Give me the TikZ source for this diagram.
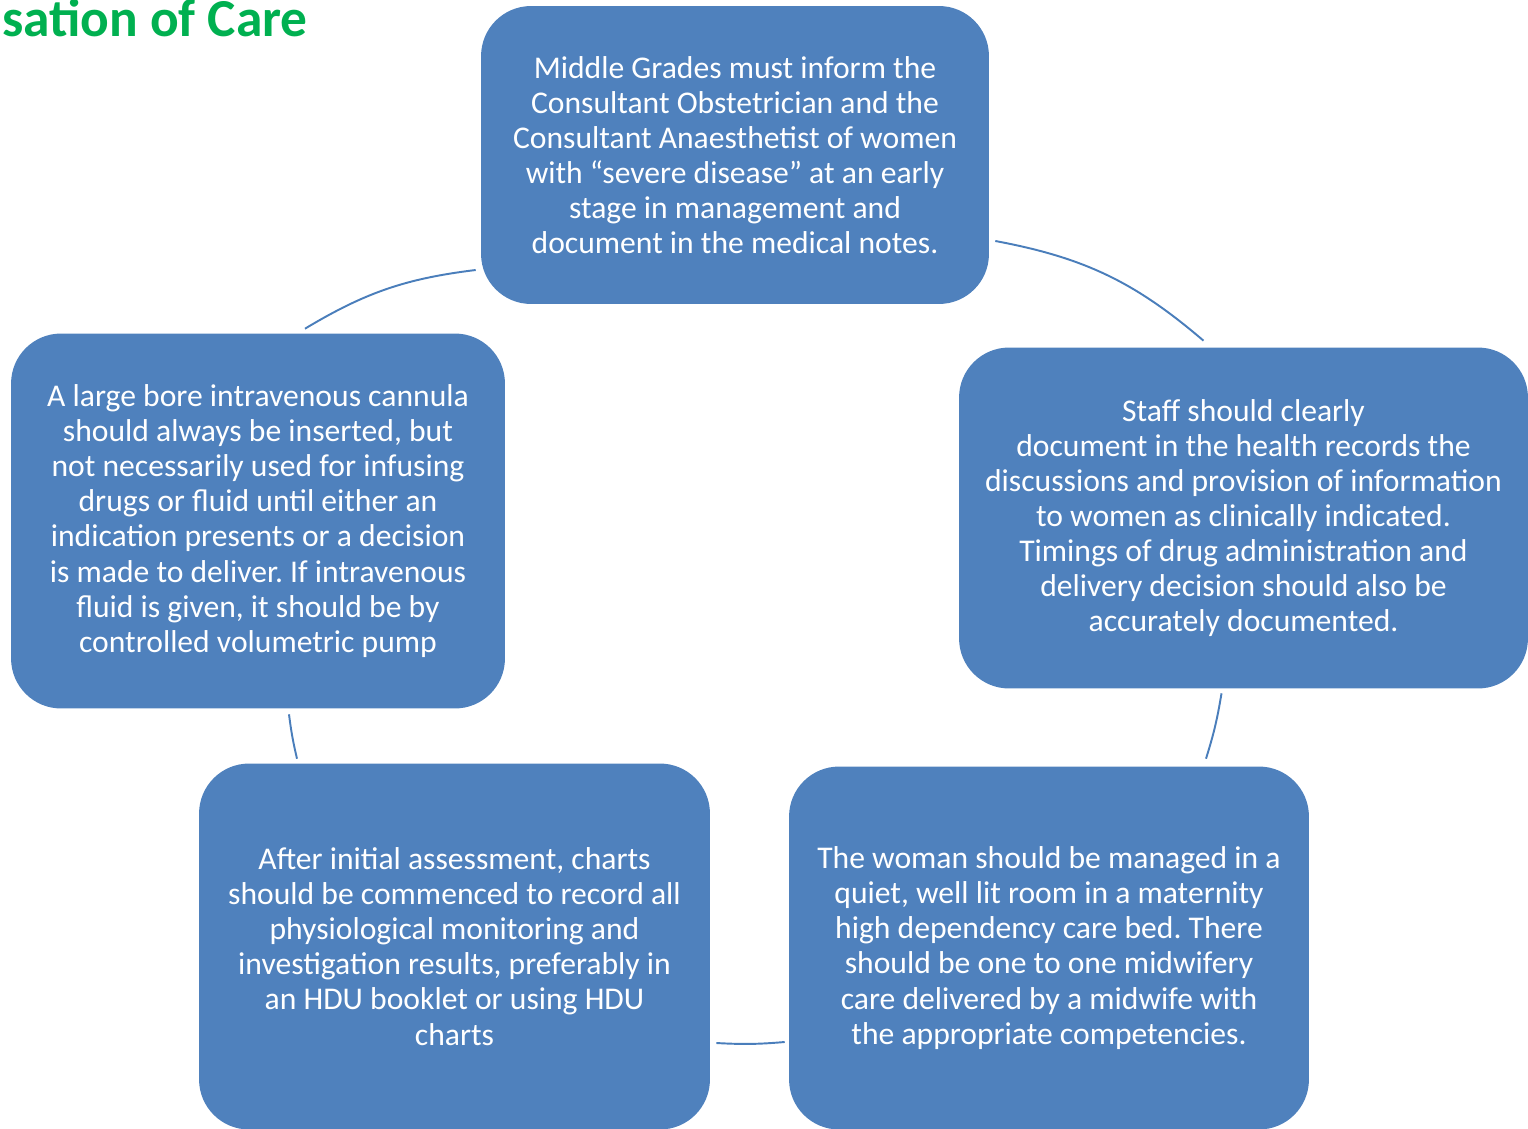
\documentclass[tikz,border=0pt]{standalone}
\usepackage{fontspec}
\setmainfont{Carlito}
\usetikzlibrary{calc}
\definecolor{boxblue}{HTML}{4F81BD}
\definecolor{linkblue}{HTML}{4A7EBB}
\definecolor{titlegreen}{HTML}{00B050}
\frenchspacing
\begin{document}
\begin{tikzpicture}[x=0.02cm,y=-0.02cm,
  card/.style={fill=boxblue, rounded corners=1cm, text=white, align=center,
    inner sep=0pt, font=\fontsize{18}{19.96}\selectfont},
  link/.style={draw=linkblue, line width=1.1pt},
  heading/.style={text=titlegreen, inner sep=0pt, anchor=base west,
    font=\fontsize{30.4}{36}\selectfont\bfseries}]
\useasboundingbox (0,0) rectangle (1528,1129);
\clip (0,0) rectangle (1528,1129);

\node[heading] (title) at (2,36) {sation of Care};

\node[card, minimum width=10.16cm, minimum height=5.96cm] (top) at (735,155)
  {Middle Grades must inform the\\Consultant Obstetrician and the\\Consultant Anaesthetist of women\\with “severe disease” at an early\\stage in management and\\document in the medical notes.};

\node[card, minimum width=11.38cm, minimum height=6.82cm] (right) at (1243.5,518)
  {Staff should clearly\\document in the health records the\\discussions and provision of information\\to women as clinically indicated.\\Timings of drug administration and\\delivery decision should also be\\accurately documented.};

\node[card, minimum width=10.4cm, minimum height=7.26cm] (brt) at (1049,948)
  {The woman should be managed in a\\quiet, well lit room in a maternity\\high dependency care bed. There\\should be one to one midwifery\\care delivered by a midwife with\\the appropriate competencies.};

\node[card, minimum width=10.22cm, minimum height=7.32cm] (blt) at (454.5,946.5)
  {After initial assessment, charts\\should be commenced to record all\\physiological monitoring and\\investigation results, preferably in\\an HDU booklet or using HDU\\charts};

\node[card, minimum width=9.88cm, minimum height=7.5cm] (left) at (258,521)
  {A large bore intravenous cannula\\should always be inserted, but\\not necessarily used for infusing\\drugs or fluid until either an\\indication presents or a decision\\is made to deliver. If intravenous\\fluid is given, it should be by\\controlled volumetric pump};

% cycle connectors between neighbouring cards
\draw[link] ($(top.east)+(6,86)$) to[bend left=15] ($(right.north)+(-40,-6.5)$);
\draw[link] ($(right.south)+(-22,4.5)$) to[bend left=4] ($(brt.north)+(157,-7.5)$);
\draw[link] ($(brt.west)+(-4,94)$) to[bend left=4] ($(blt.east)+(6,96.5)$);
\draw[link] ($(blt.north)+(-157.5,-4.5)$) to[bend left=3] ($(left.south)+(31,5.5)$);
\draw[link] ($(left.north)+(47,-4.5)$) to[bend left=12] ($(top.west)+(-5,115)$);
\end{tikzpicture}
\end{document}
